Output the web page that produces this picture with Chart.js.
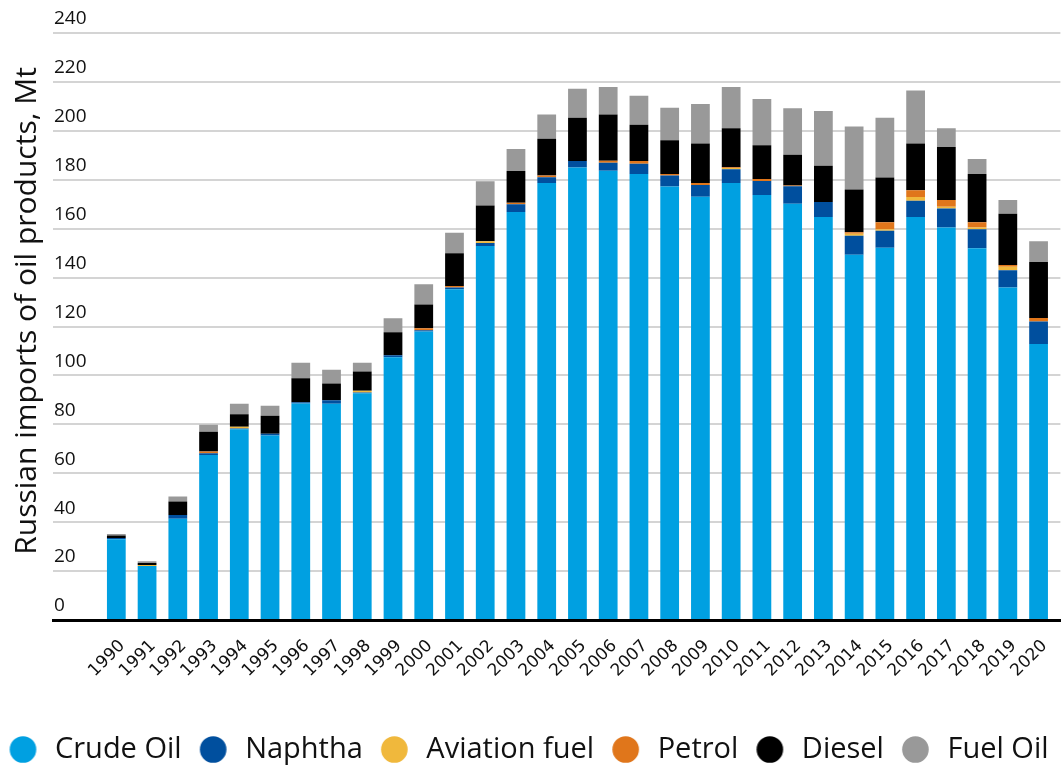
<!DOCTYPE html>
<html>
<head>
<meta charset="utf-8">
<script src="https://cdn.jsdelivr.net/npm/chart.js@4.4.1/dist/chart.umd.min.js"></script>
<style>
  html, body { margin: 0; padding: 0; background: #ffffff; }
  #wrap { width: 1061px; height: 769px; position: relative; }
</style>
</head>
<body>
<div id="wrap"><canvas id="c" width="1061" height="769"></canvas></div>
<script>
const years = [1990,1991,1992,1993,1994,1995,1996,1997,1998,1999,2000,2001,2002,2003,2004,2005,2006,2007,2008,2009,2010,2011,2012,2013,2014,2015,2016,2017,2018,2019,2020];

const crudeOil     = [33.0,22.1,41.4,67.5,78.0,75.4,88.5,88.4,92.7,107.4,118.0,135.2,152.9,166.8,178.7,185.0,183.7,182.3,177.2,173.1,178.7,173.8,170.2,164.8,149.3,152.2,164.8,160.5,152.0,135.9,112.8];
const naphtha      = [0.5,0.0,1.5,0.7,0.3,0.7,0.5,1.4,0.3,0.8,0.5,0.7,1.2,3.2,2.3,2.7,3.3,4.2,4.5,4.8,5.6,5.7,7.1,6.1,7.8,6.9,6.6,7.7,7.8,7.1,9.2];
const aviationFuel = [0,0.4,0,0,0.7,0,0,0,0.7,0,0,0,0.8,0,0,0,0,0,0,0,0.5,0,0,0,0.8,0.7,1.5,0.8,0.7,1.4,0];
const petrol       = [0,0,0,0.7,0,0,0,0,0,0,0.8,0.7,0,0.6,0.7,0,0.8,1.2,0.7,0.8,0.3,0.8,0.3,0,0.6,2.8,2.8,2.7,2.1,0.7,1.5];
const diesel       = [1.0,0.8,5.5,8.1,5.1,7.4,9.8,6.9,7.9,9.4,9.7,13.4,14.6,13.0,15.1,17.6,18.9,14.8,13.8,16.1,16.0,13.8,12.6,14.8,17.5,18.3,19.1,21.7,19.7,21.0,22.9];
const fuelOil      = [0.7,0.7,2.1,2.8,4.3,4.1,6.4,5.6,3.6,5.8,8.3,8.3,9.9,9.0,9.9,11.9,11.2,11.8,13.2,16.2,16.8,18.9,19.0,22.4,25.8,24.4,21.7,7.7,6.2,5.6,8.5];

const seriesNames = ['Crude Oil','Naphtha','Aviation fuel','Petrol','Diesel','Fuel Oil'];
const yTicks = [0,20,40,60,80,100,120,140,160,180,200,220,240];
const yTitle = 'Russian imports of oil products, Mt';

const colors = ['#00a0e1','#004f9e','#f0b83c','#e0761b','#000000','#999999'];
const values = [crudeOil, naphtha, aviationFuel, petrol, diesel, fuelOil];

// legend marker: a 27px dot with a margin on its left and a small gap on its right
function makeDot(color) {
  const cv = document.createElement('canvas');
  cv.width = 41; cv.height = 27;
  const g = cv.getContext('2d');
  g.fillStyle = color;
  g.beginPath();
  g.arc(23.5, 13.5, 13.3, 0, Math.PI * 2);
  g.fill();
  return cv;
}
const dots = colors.map(makeDot);

const datasets = seriesNames.map((name, i) => ({
  label: name,
  data: values[i],
  backgroundColor: colors[i],
  borderWidth: 0,
  barPercentage: 0.61,
  categoryPercentage: 1.0
}));

new Chart(document.getElementById('c'), {
  type: 'bar',
  data: { labels: years, datasets },
  options: {
    responsive: false,
    animation: false,
    devicePixelRatio: 1,
    layout: { padding: { top: 33, left: -13, right: 0, bottom: -5 } },
    plugins: {
      tooltip: { enabled: false },
      legend: {
        position: 'bottom',
        labels: {
          usePointStyle: true,
          pointStyleWidth: 41,
          boxHeight: 27,
          padding: 8,
          color: '#111111',
          font: { family: 'Open Sans', size: 29 },
          generateLabels: chart =>
            Chart.defaults.plugins.legend.labels.generateLabels(chart)
              .map((it, i) => Object.assign(it, { pointStyle: dots[i] }))
        }
      }
    },
    scales: {
      x: {
        type: 'linear',
        stacked: true,
        offset: false,
        min: 1987.94,
        max: 2020.71,
        z: 1,
        afterFit: s => { s.height = 107; },
        afterBuildTicks: s => { s.ticks = years.map(v => ({ value: v })); },
        grid: { display: false, offset: false },
        border: { display: true, color: '#000000', width: 3 },
        ticks: {
          autoSkip: false,
          includeBounds: false,
          minRotation: 45,
          maxRotation: 45,
          padding: 8,
          labelOffset: 6,
          color: '#111111',
          font: { family: 'DejaVu Sans', size: 17 },
          callback: v => String(v)
        }
      },
      y: {
        stacked: true,
        min: 0,
        max: 240,
        afterFit: s => { s.width = 66; },
        afterBuildTicks: s => { s.ticks = yTicks.map(v => ({ value: v })); },
        border: { display: false },
        grid: { color: '#d4d4d4', lineWidth: 2, drawTicks: false },
        ticks: {
          mirror: true,
          padding: 1,
          labelOffset: -14,
          color: '#111111',
          font: { family: 'Open Sans', size: 19 }
        },
        title: {
          display: true,
          text: '\u00a0\u00a0\u00a0\u00a0' + yTitle,
          color: '#111111',
          padding: { top: 22, bottom: 0 },
          font: { family: 'Open Sans', size: 30 }
        }
      }
    }
  }
});
</script>
</body>
</html>
